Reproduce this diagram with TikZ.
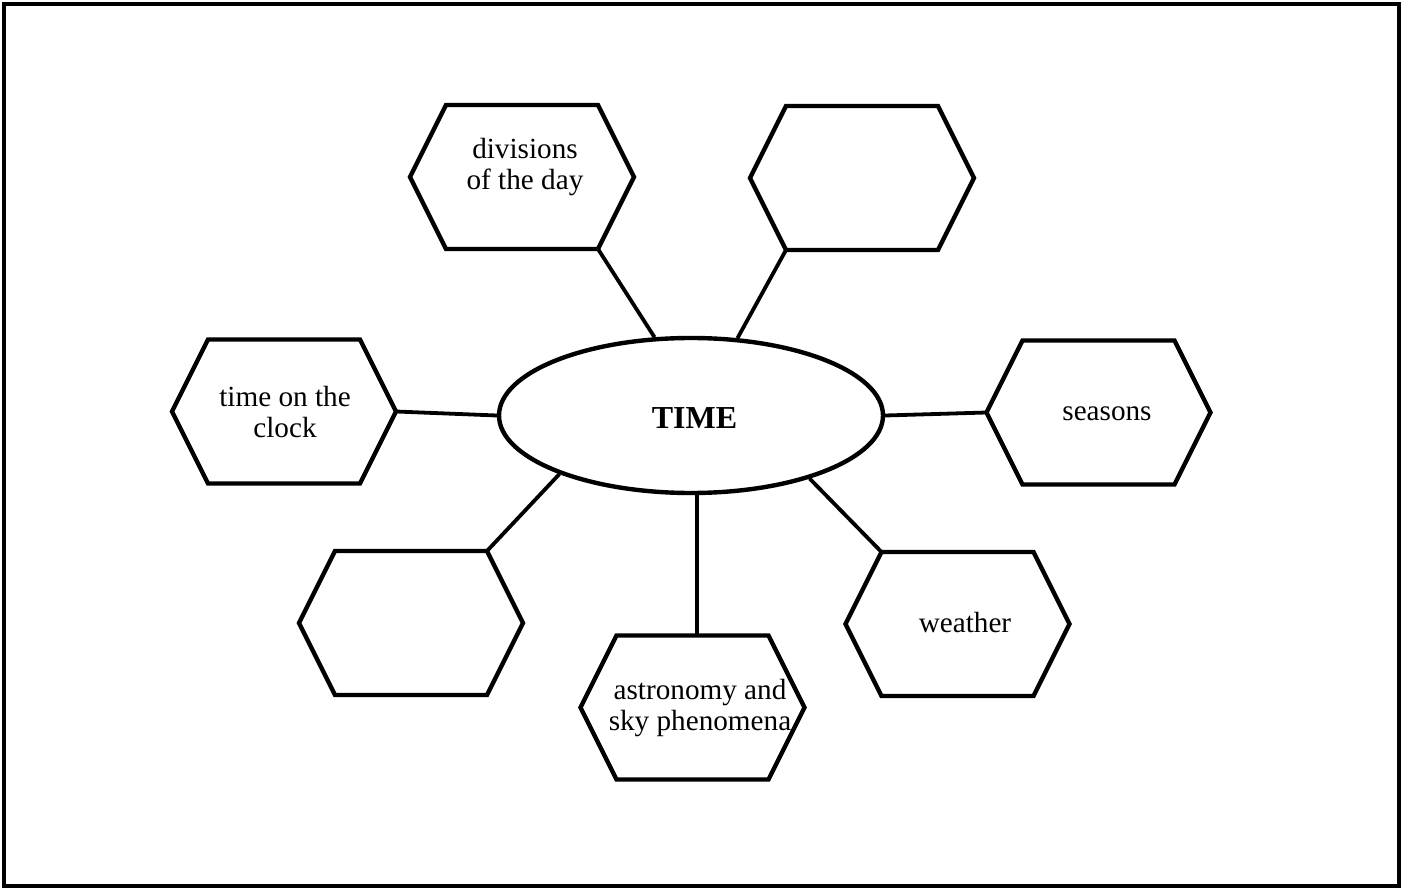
\documentclass[tikz,border=0pt]{standalone}
\usepackage{fontspec}
\setmainfont{Liberation Serif}
\usetikzlibrary{shapes.geometric}

% Outline of a flat-topped hexagon laid over a rectangular node,
% with its four slanted corners kept as named coordinates.
\newcommand\hexagonat[1]{%
  \path ([xshift=18pt]#1.north west) coordinate (#1-nw)
        ([xshift=-18pt]#1.north east) coordinate (#1-ne)
        ([xshift=-18pt]#1.south east) coordinate (#1-se)
        ([xshift=18pt]#1.south west) coordinate (#1-sw);
  \draw[outline] (#1.west) -- (#1-nw) -- (#1-ne) -- (#1.east)
                 -- (#1-se) -- (#1-sw) -- cycle;}

\begin{document}
\begin{tikzpicture}[x=0.5pt, y=-0.5pt,
  outline/.style={line width=2.2pt, line join=miter},
  link/.style={line width=1.9pt},
  hexbox/.style={shape=rectangle, minimum width=112pt, minimum height=72pt,
                 inner sep=0pt, outer sep=0pt},
  word/.style={align=center, inner sep=0pt,
               font=\fontsize{14.6}{15.25}\selectfont},
  hub/.style={draw, ellipse, line width=2.2pt, minimum width=192pt,
              minimum height=77.5pt, inner sep=0pt},
  title/.style={inner sep=0pt, font=\fontsize{16}{18}\selectfont\bfseries}]

\useasboundingbox (0,0) rectangle (1410,888);
\draw[line width=2.25pt] (4,4) rectangle (1399,886);

% central topic
\node[hub] (tm) at (691,415.5) {};
\node[title] (tl) at (694.5,418) {TIME};

% surrounding hexagons
\node[hexbox] (h1) at (522,177) {};
\node[hexbox] (h2) at (862,178) {};
\node[hexbox] (h3) at (284,411.5) {};
\node[hexbox] (h4) at (1098.5,412.5) {};
\node[hexbox] (h5) at (411,623) {};
\node[hexbox] (h6) at (692.5,707.5) {};
\node[hexbox] (h7) at (957.5,624) {};
\foreach \h in {h1,h2,h3,h4,h5,h6,h7} {\hexagonat{\h}}

% labels inside the hexagons
\node[word] (t1) at (525,167) {divisions\\of the day};
\node[word] (t3) at (285,412) {time on the\\clock};
\node[word] (t4) at (1107,413.5) {seasons};
\node[word] (t6) at (700,708) {astronomy and\\sky phenomena};
\node[word] (t7) at (965,623) {weather};

% spokes
\coordinate (h6-top) at ([xshift=2.25pt]h6.north);
\draw[link] (h1-se) -- (tm.115.3);
\draw[link] (h2-sw) -- (tm.59.9);
\draw[link] (h3.east) -- (tm.west);
\draw[link] (tm.east) -- (h4.west);
\draw[link] (h5-ne) -- (tm.204.9);
\draw[link] (h7-nw) -- (tm.332.1);
\draw[link] (h6-top) -- (h6-top |- tm.south);
\end{tikzpicture}
\end{document}
